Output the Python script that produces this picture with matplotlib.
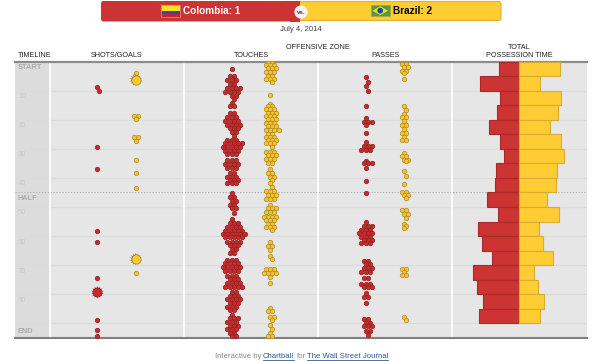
import matplotlib
matplotlib.use("Agg")
import matplotlib.pyplot as plt
from matplotlib.patches import FancyBboxPatch, Rectangle, Circle, Polygon
from matplotlib.lines import Line2D
import numpy as np

plt.rcParams['font.family'] = ['Liberation Sans', 'DejaVu Sans']

W, H = 599, 361
RED, RED_E = '#cc3333', '#8a2020'
YEL, YEL_E = '#ffcc33', '#a88a22'

col_tick_minutes = [10, 20, 30, 40, 50, 60, 70, 80, 90]
col_tick_labels = ['10', '20', '30', '40', '50', '60', '70', '80', '']

col_shots = [8.9, 10.2, 29.5, 36.9, 58.4, 61.9, 74.5, 88.7, 92.3, 94.3]
col_goals = [79.3]
bra_shots = [4.0, 18.7, 18.7, 19.9, 25.8, 25.8, 27.4, 33.9, 38.4, 43.5, 72.7]
bra_goals = [6.3, 67.9]

col_touches = [2.6, 5.1, 5.1, 6.4, 6.4, 6.4, 7.7, 7.7, 9.2, 9.2, 9.2, 9.2, 10.6, 10.6, 10.6, 10.6,
               11.9, 11.9, 13.0, 14.1, 15.3, 15.3, 17.8, 17.8, 19.2, 19.2, 19.2, 20.6, 20.6, 20.6, 20.6,
               21.8, 21.8, 21.8, 21.8, 23.0, 23.0, 23.0, 24.3, 24.3, 25.6, 27.0, 27.0, 27.0,
               28.1, 28.1, 28.1, 28.1, 28.1, 29.5, 29.5, 29.5, 29.5, 29.5, 30.6, 30.6, 30.6, 30.6,
               31.8, 31.8, 31.8, 34.0, 34.0, 34.0, 35.3, 35.3, 35.3, 35.3, 36.7, 36.7, 36.7,
               38.2, 38.2, 39.6, 39.6, 39.6, 40.7, 40.7, 40.7, 41.9, 41.9, 41.9,
               45.3, 46.7, 46.7, 47.8, 47.8, 49.2, 49.2, 50.5, 50.5, 52.1,
               54.2, 55.6, 55.6, 55.6, 57.0, 57.0, 57.0, 57.0, 58.1, 58.1, 58.1, 58.1, 58.1,
               59.3, 59.3, 59.3, 59.3, 59.3, 59.3, 60.4, 60.4, 60.4, 60.4, 60.4,
               61.9, 61.9, 61.9, 61.9, 63.1, 63.1, 63.1, 64.4, 64.4, 65.7, 65.7,
               68.2, 68.2, 68.2, 69.4, 69.4, 69.4, 69.4, 70.5, 70.5, 70.5, 70.5, 70.5,
               71.9, 71.9, 71.9, 71.9, 73.6, 73.6, 73.6, 74.7, 74.7, 74.7, 76.0, 76.0, 76.0, 76.0,
               77.5, 77.5, 77.5, 77.5, 77.5, 79.1, 79.1, 80.5, 80.5, 80.5, 81.7, 81.7, 81.7, 81.7,
               83.1, 83.1, 83.1, 84.2, 84.2, 84.2, 85.4, 85.4, 87.1, 88.2, 88.2, 88.2,
               89.4, 89.4, 89.4, 90.8, 90.8, 90.8, 91.9, 91.9, 91.9, 93.2, 93.2, 94.5, 94.5]

bra_touches = [0.6, 0.6, 1.2, 1.2, 1.2, 2.3, 2.3, 2.3, 3.6, 3.6, 3.6, 5.0, 5.0, 5.9, 5.9, 5.9, 7.2, 11.6,
               14.6, 15.3, 15.3, 16.4, 16.4, 16.4, 17.6, 17.6, 17.6, 18.7, 18.7, 18.7, 19.9, 19.9, 19.9,
               21.0, 21.0, 21.0, 22.2, 22.2, 22.2, 23.5, 23.5, 23.5, 23.5, 24.9, 24.9, 26.1, 26.1, 26.1,
               27.0, 27.0, 27.0, 28.1, 28.1, 28.1, 29.3, 31.0, 31.0, 31.0, 32.2, 32.2, 32.2,
               33.4, 33.4, 33.4, 34.8, 34.8, 37.1, 38.2, 38.2, 39.6, 39.6, 40.7, 41.9, 43.0,
               44.4, 44.4, 44.4, 45.8, 45.8, 45.8, 47.1, 47.1, 47.1, 49.2, 50.5, 50.5, 50.5,
               51.8, 51.8, 51.8, 53.3, 53.3, 53.3, 53.3, 54.5, 54.5, 54.5, 55.8, 55.8, 57.0, 57.0, 57.0, 57.9,
               61.9, 63.4, 63.4, 64.8, 66.8, 68.0, 71.4, 71.4, 71.4, 72.8, 72.8, 72.8, 72.8, 74.1, 76.2,
               84.8, 85.9, 85.9, 87.7, 87.7, 89.0, 90.5, 91.8, 93.2, 94.3, 94.3]

col_passes = [5.4, 6.9, 8.4, 10.0, 15.3, 19.5, 20.7, 20.7, 20.7, 21.9, 24.7, 27.5, 28.9, 28.9, 28.9,
              30.3, 30.3, 30.3, 34.1, 35.0, 35.0, 35.0, 36.7, 41.0, 45.3,
              55.0, 56.5, 56.5, 56.5, 57.9, 57.9, 57.9, 59.0, 59.0, 59.0, 59.0, 60.2, 60.2, 60.2,
              61.3, 61.3, 61.3, 62.5, 62.5, 62.5, 68.6, 68.6, 69.7, 69.7, 70.9, 70.9, 70.9, 72.2, 72.2, 72.2,
              74.3, 74.3, 76.4, 76.4, 76.4, 77.4, 77.4, 77.4, 79.4, 81.0, 81.0, 83.0,
              88.6, 88.6, 90.0, 90.0, 91.0, 91.0, 91.0, 92.5, 92.5, 94.1]

bra_passes = [0.9, 0.9, 1.8, 1.8, 3.2, 3.2, 4.1, 6.1, 15.3, 16.7, 18.0, 19.2, 19.2, 20.6, 21.7, 21.7,
              23.1, 24.4, 24.4, 25.8, 27.0, 27.0, 31.5, 32.4, 32.4, 33.8, 33.8, 34.3, 37.8, 39.2,
              42.2, 44.7, 44.7, 45.8, 45.8, 46.9, 51.0, 51.0, 52.4, 52.4, 53.8, 55.8, 56.5, 57.3,
              71.4, 71.4, 72.2, 73.4, 73.4, 87.7, 88.8]

col_possession = [32.4, 64.8, 31.3, 36.3, 49.5, 31.3, 25.3, 37.9, 39.6,
                  53.3, 34.1, 67.0, 61.0, 44.0, 75.8, 69.2, 58.8, 65.4]
bra_possession = [67.6, 35.2, 68.7, 63.7, 50.5, 68.7, 74.7, 62.1, 60.4,
                  46.7, 65.9, 33.0, 39.0, 56.0, 24.2, 30.8, 41.2, 34.6]
possession_start = [0, 5, 10, 15, 20, 25, 30, 35, 40, 45, 50, 55, 60, 65, 70, 75, 80, 85]

PX_PER_MIN = 2.91
TOP, BOTTOM = 61.5, 337.5
LEFT, RIGHT = 15.0, 587.0
DOT_GAP = 4.3


def lattice(times):
    """Hex-packed offsets in pixels: equal minutes form a row, adjacent rows stagger."""
    t = np.array(times)
    rows = np.unique(t)
    xs, ys = [], []
    parity, prev = 0, None
    for r in rows:
        n = int((t == r).sum())
        if prev is None or r - prev > 1.8:
            parity = (n + 1) % 2
        else:
            parity = 1 - parity
        if parity == 0:
            slots = [0]
            for k in range(1, n):
                slots.append(((k + 1) // 2) * (1 if k % 2 else -1))
        else:
            slots = []
            for k in range(n):
                m = k // 2 + 0.5
                slots.append(m if k % 2 == 0 else -m)
        for s in slots:
            xs.append(s * DOT_GAP)
            ys.append(r)
        prev = r
    return np.array(xs), np.array(ys)


fig = plt.figure(figsize=(W / 100, H / 100), dpi=100, facecolor='white')


def axrect(l, t, r, b):
    return [l / W, 1 - b / H, (r - l) / W, (b - t) / H]


ax = fig.add_axes(axrect(LEFT, TOP, RIGHT, BOTTOM), facecolor='#e6e6e6')
ax.set_xlim(LEFT, RIGHT)
ax.set_ylim((BOTTOM - TOP) / PX_PER_MIN, 0)
for s in ax.spines.values():
    s.set_visible(False)
ax.set_xticks([])
ax.set_yticks([])

ax.axvspan(LEFT, 49.5, color='#dcdcdc', lw=0, zorder=0)
for m in col_tick_minutes:
    ax.axhline(m, color='#dbdbdb', lw=0.9, zorder=1)
ax.axhline(45, color='#b5b5b5', lw=0.7, ls=(0, (1.5, 1.5)), zorder=1)
for x in [50, 184, 318, 452]:
    ax.axvline(x, color='white', lw=1.2, zorder=2)
ax.axhline(0, color='#8c8c8c', lw=1.6, zorder=3, clip_on=False)
ax.axhline((BOTTOM - TOP) / PX_PER_MIN, color='#808080', lw=1.5, zorder=3, clip_on=False)

for m, l in zip(col_tick_minutes, col_tick_labels):
    ax.annotate(l, (18, m), xytext=(0, -6 * 0.72), textcoords='offset points', color='#c8c8c8',
                fontsize=5.5, va='center', ha='left')
for l, m, off in [('START', 0, -6), ('HALF', 45, -6.3), ('END', 90, -8.5)]:
    ax.annotate(l, (18, m), xytext=(0, off * 0.72), textcoords='offset points', color='#ababab',
                fontsize=5.3, fontweight='bold', va='center', ha='left')


def dots(times, cx, fc, ec):
    dx, ys = lattice(times)
    ax.scatter(cx + dx, ys, s=10.5, fc=fc, ec=ec, lw=0.5, zorder=5, clip_on=False)


dots(col_shots, 97.3, '#cc2a2a', RED_E)
dots(bra_shots, 135.7, '#fdc32a', YEL_E)
dots(col_touches, 231.7, '#cc2a2a', RED_E)
dots(bra_touches, 270.0, '#fdc32a', YEL_E)
dots(col_passes, 365.7, '#cc2a2a', RED_E)
dots(bra_passes, 404.0, '#fdc32a', YEL_E)

for goals, cx, fc, ec in [(col_goals, 97.3, '#cc2a2a', '#6d1a1a'), (bra_goals, 135.7, '#ffc82c', '#8a7320')]:
    xs = [cx] * len(goals)
    ax.scatter(xs, goals, s=85, marker=(14, 1, 0), fc=ec, ec='none', zorder=6)
    ax.scatter(xs, goals, s=44, marker='o', fc=fc, ec=ec, lw=0.4, zorder=7)

PX_PER_PCT = 0.607
CENTER = 519.0
L2, R2 = 453.0, 587.0
bx = fig.add_axes(axrect(L2, TOP, R2, BOTTOM), facecolor='none')
bx.set_xlim((L2 - CENTER) / PX_PER_PCT, (R2 - CENTER) / PX_PER_PCT)
bx.set_ylim((BOTTOM - TOP) / PX_PER_MIN, 0)
bx.axis('off')
starts = np.array(possession_start)
bx.barh(starts, -np.array(col_possession), height=5, align='edge', color=RED, edgecolor='#a82a2a', lw=0.8, zorder=4)
bx.barh(starts, bra_possession, height=5, align='edge', color=YEL, edgecolor='#d8ac30', lw=0.8, zorder=4)

ov = fig.add_axes([0, 0, 1, 1], facecolor='none')
ov.set_xlim(0, W)
ov.set_ylim(H, 0)
ov.axis('off')

ov.add_patch(FancyBboxPatch((280, 1.5), 221, 19, boxstyle='round,pad=0,rounding_size=2.5',
                            fc=YEL, ec='#e0b030', lw=0.8, zorder=1))
ov.add_patch(FancyBboxPatch((101, 1), 199, 20.5, boxstyle='round,pad=0,rounding_size=2.5',
                            fc=RED, ec='none', zorder=2))
ov.add_patch(Rectangle((290, 1), 10, 20.5, fc=RED, ec='none', zorder=2))
ov.add_patch(Circle((301, 12), 6.6, fc='#f4f4f4', ec='none', zorder=3))
ov.text(301, 12.3, 'vs.', fontsize=4.4, fontweight='bold', color='#444444', ha='center', va='center', zorder=4)

ov.add_patch(Rectangle((161, 5.2), 19, 6, fc='#ffe11a', ec='none', zorder=3))
ov.add_patch(Rectangle((161, 11.2), 19, 3, fc='#2a4bb0', ec='none', zorder=3))
ov.add_patch(Rectangle((161, 14.2), 19, 3, fc='#c8242c', ec='none', zorder=3))
ov.add_patch(Rectangle((161, 5.2), 19, 12, fc='none', ec='#d98080', lw=0.6, zorder=3))
ov.text(183.3, 10.6, 'Colombia: 1', fontsize=7.2, fontweight='bold', color='white', va='center', ha='left', zorder=4)

ov.add_patch(Rectangle((371, 5.2), 18.5, 11, fc='#4f9a45', ec='#b8a040', lw=0.5, zorder=3))
ov.add_patch(Polygon([(372.5, 10.7), (380.2, 6.2), (388, 10.7), (380.2, 15.2)], fc='#f5d92c', ec='none', zorder=4))
ov.add_patch(Circle((380.2, 10.7), 2.9, fc='#1f4a9c', ec='none', zorder=5))
ov.text(393, 10.6, 'Brazil: 2', fontsize=7.2, fontweight='bold', color='black', va='center', ha='left', zorder=4)

ov.text(300.8, 29.3, 'July 4, 2014', fontsize=5.6, color='#444444', ha='center', va='center')
for txt, x, y in [('TIMELINE', 34.5, 55.3), ('SHOTS/GOALS', 117, 55.3), ('TOUCHES', 251, 55.3),
                  ('PASSES', 385.3, 55.3), ('OFFENSIVE ZONE', 318, 47.2), ('TOTAL', 519, 47.2),
                  ('POSSESSION TIME', 519, 55.3)]:
    ov.text(x, y, txt, fontsize=5.2, color='#222222', ha='center', va='center')

fig.canvas.draw()
rend = fig.canvas.get_renderer()
for txt, col, x, x2 in [('Interactive by', '#888888', 215, None), ('Chartball', '#33598f', 263, 294),
                        ('for', '#888888', 297, None), ('The Wall Street Journal', '#33598f', 307, 388)]:
    ov.text(x, 356.3, txt, fontsize=5.6, color=col, ha='left', va='center')
    if x2 is not None:
        ov.add_line(Line2D([x, x2], [359.8, 359.8], color=col, lw=0.6))

fig.savefig('out.png', dpi=100, facecolor='white')
